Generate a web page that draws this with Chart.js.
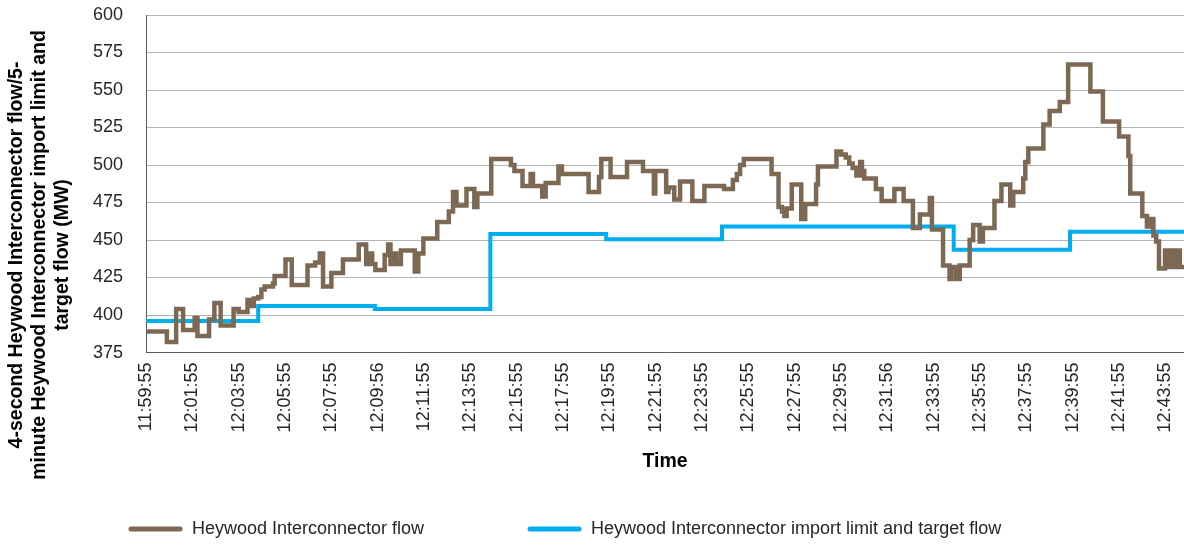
<!DOCTYPE html>
<html>
<head>
<meta charset="utf-8">
<title>Heywood Interconnector flow</title>
<script src="https://cdn.jsdelivr.net/npm/chart.js@4.4.1/dist/chart.umd.min.js"></script>
<style>
  html, body { margin: 0; padding: 0; background: #fff; }
  #wrap { width: 1184px; height: 545px; position: relative; }
</style>
</head>
<body>
<div id="wrap"><canvas id="chart"></canvas></div>
<script>
// x = minutes after 11:59:55, each entry is where the value changes (MW)
const flowTimes = [
  0, 0.9, 1.3, 1.6, 2.1, 2.22, 2.72, 2.95, 3.22, 3.78,
  4.0, 4.38, 4.55, 4.65, 4.84, 4.98, 5.12, 5.48, 5.55, 6.02,
  6.29, 6.97, 7.3, 7.5, 7.64, 8.0, 8.5, 9.18, 9.5, 9.62,
  9.76, 9.9, 10.3, 10.45, 10.55, 10.7, 10.8, 11.0, 11.6, 11.75,
  11.97, 12.57, 13.07, 13.25, 13.4, 13.83, 14.17, 14.3, 14.9, 15.75,
  15.9, 16.25, 16.6, 16.7, 17.1, 17.25, 17.8, 17.95, 19.1, 19.55,
  19.65, 20.05, 20.76, 21.45, 21.92, 21.98, 22.45, 22.55, 22.8, 23.05,
  23.58, 24.1, 24.95, 25.33, 25.5, 25.64, 25.8, 27.0, 27.3, 27.45,
  27.55, 27.65, 27.87, 28.28, 28.45, 28.92, 29.0, 29.8, 30.0, 30.2,
  30.35, 30.5, 30.66, 30.82, 30.9, 31.0, 31.5, 31.75, 32.3, 32.7,
  33.1, 33.4, 33.83, 33.92, 34.4, 34.68, 34.76, 34.96, 35.12, 35.55,
  35.7, 35.98, 36.12, 36.62, 36.92, 37.3, 37.43, 37.86, 37.95, 38.08,
  38.73, 39.0, 39.44, 39.8, 40.76, 41.3, 42.0, 42.4, 42.48, 43.0,
  43.2, 43.3, 43.48, 43.6, 43.72, 43.98, 44.1, 44.2, 44.28, 44.43,
  44.62, 44.8
];
const flowValues = [
  389, 382, 404, 390, 398, 386, 397, 408, 393, 404,
  402, 410, 406, 411, 412, 417, 419, 421, 426, 437,
  420, 433, 435, 441, 419, 428, 437, 447, 434, 441,
  434, 430, 440, 447, 434, 441, 434, 443, 429, 441,
  451, 462, 469, 482, 473, 484, 472, 481, 504, 500,
  496, 486, 494, 486, 479, 488, 499, 494, 482, 492,
  504, 492, 502, 496, 481, 496, 482, 485, 477, 489,
  476, 486, 484, 490, 494, 500, 504, 494, 472, 469,
  466, 471, 487, 464, 474, 487, 499, 509, 507, 505,
  501, 498, 493, 502, 496, 491, 484, 476, 484, 476,
  458, 467, 478, 457, 433, 424, 432, 424, 433, 450,
  460, 449, 458, 476, 487, 473, 482, 491, 502, 511,
  527, 536, 542, 567, 549, 529, 519, 506, 481, 466,
  459, 464, 453, 449, 431, 443, 432, 443, 432, 443,
  432, 432
];
const limitTimes = [0, 4.84, 9.88, 14.86, 19.86, 24.86, 34.86, 39.88, 44.8];
const limitValues = [396, 406, 404, 454, 450.5, 459, 443.5, 455.5, 455.5];

const tickLabels = [
  '11:59:55', '12:01:55', '12:03:55', '12:05:55', '12:07:55', '12:09:56',
  '12:11:55', '12:13:55', '12:15:55', '12:17:55', '12:19:55', '12:21:55',
  '12:23:55', '12:25:55', '12:27:55', '12:29:55', '12:31:56', '12:33:55',
  '12:35:55', '12:37:55', '12:39:55', '12:41:55', '12:43:55'
];
const yTitle = [
  '4-second Heywood Interconnector flow/5-',
  'minute Heywood Interconnector import limit and',
  'target flow (MW)'
];

const FONT = '"Liberation Sans", Arial, Helvetica, sans-serif';
Chart.defaults.font.family = FONT;
Chart.defaults.font.size = 18;
Chart.defaults.color = '#262626';

const toPoints = (xs, ys) => xs.map((x, i) => ({ x: x, y: ys[i] }));

// rotated three-line y title, centred lower than the plot like the original
const yTitlePlugin = {
  id: 'yTitle',
  afterDraw(chart) {
    const ctx = chart.ctx;
    ctx.save();
    ctx.font = 'bold 19.5px ' + FONT;
    ctx.fillStyle = '#000';
    ctx.textAlign = 'center';
    ctx.textBaseline = 'middle';
    [17, 40, 63].forEach((x, i) => {
      ctx.save();
      ctx.translate(x, 255);
      ctx.rotate(-Math.PI / 2);
      ctx.fillText(yTitle[i], 0, 0);
      ctx.restore();
    });
    ctx.restore();
  }
};

// legend with the wide gap between items
const legendPlugin = {
  id: 'wideLegend',
  afterDraw(chart) {
    const ctx = chart.ctx;
    const slots = [128, 527];
    const y = 529;
    ctx.save();
    ctx.font = '18px ' + FONT;
    ctx.textBaseline = 'middle';
    ctx.fillStyle = '#262626';
    chart.data.datasets.forEach((ds, i) => {
      const x = slots[i];
      ctx.strokeStyle = ds.borderColor;
      ctx.lineWidth = 5;
      ctx.lineCap = 'round';
      ctx.beginPath();
      ctx.moveTo(x + 3, y);
      ctx.lineTo(x + 52, y);
      ctx.stroke();
      ctx.fillText(ds.label, x + 64, y);
    });
    ctx.restore();
  }
};

new Chart(document.getElementById('chart'), {
  type: 'line',
  data: {
    datasets: [
      {
        label: 'Heywood Interconnector flow',
        data: toPoints(flowTimes, flowValues),
        borderColor: '#7d6854',
        backgroundColor: '#7d6854',
        borderWidth: 4.5,
        stepped: 'before',
        pointRadius: 0
      },
      {
        label: 'Heywood Interconnector import limit and target flow',
        data: toPoints(limitTimes, limitValues),
        borderColor: '#00aeef',
        backgroundColor: '#00aeef',
        borderWidth: 4,
        stepped: 'before',
        pointRadius: 0
      }
    ]
  },
  options: {
    responsive: true,
    maintainAspectRatio: false,
    animation: false,
    layout: { padding: { left: 70, right: 0, top: 15, bottom: 72 } },
    plugins: {
      legend: { display: false },
      tooltip: { enabled: false }
    },
    scales: {
      x: {
        type: 'linear',
        min: 0,
        max: 44.8,
        grid: { display: false, drawTicks: false },
        border: { display: true, color: '#595959', width: 1 },
        ticks: {
          stepSize: 2,
          autoSkip: false,
          includeBounds: false,
          minRotation: 90,
          maxRotation: 90,
          padding: 10,
          callback: (v) => tickLabels[Math.round(v / 2)]
        },
        title: {
          display: true,
          text: 'Time',
          color: '#000',
          font: { weight: 'bold', size: 19.5 },
          padding: { top: 7, bottom: 0 }
        },
        afterFit(scale) { scale.paddingRight = 0; }
      },
      y: {
        min: 375,
        max: 600,
        ticks: { stepSize: 25, padding: 23 },
        grid: { color: '#b4b4b4', drawTicks: false },
        border: { color: '#595959' },
        afterFit(scale) { scale.paddingTop = 0; }
      }
    }
  },
  plugins: [yTitlePlugin, legendPlugin]
});
</script>
</body>
</html>
